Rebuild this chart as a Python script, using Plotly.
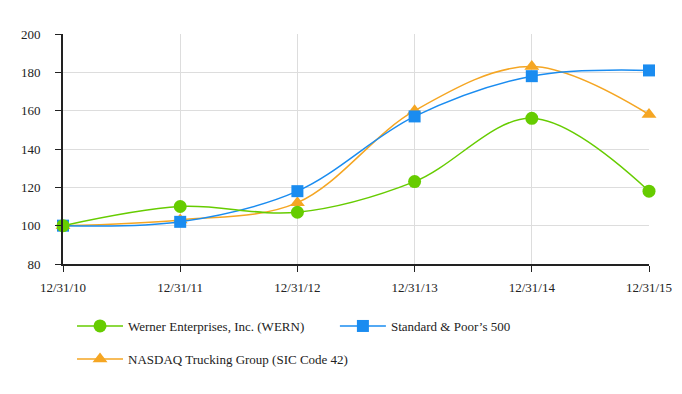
import plotly.graph_objects as go

dates = ["12/31/10", "12/31/11", "12/31/12", "12/31/13", "12/31/14", "12/31/15"]
wern = [100, 110, 107, 123, 156, 118]
sp500 = [100, 102, 118, 157, 178, 181]
nasdaq = [100, 103, 112, 160, 183, 158]

x = list(range(len(dates)))
FONT = "Liberation Serif"

fig = go.Figure()
fig.add_trace(go.Scatter(x=x, y=nasdaq, name="NASDAQ Trucking Group (SIC Code 42)",
                         mode="lines+markers", line=dict(color="#F5A623", width=1.5, shape="spline", smoothing=1),
                         marker=dict(symbol="triangle-up", size=13, color="#F5A623"),
                         cliponaxis=False, legend="legend3", showlegend=True))
fig.add_trace(go.Scatter(x=x, y=sp500, name="Standard & Poor\u2019s 500",
                         mode="lines+markers", line=dict(color="#1A8CF0", width=1.5, shape="spline", smoothing=1),
                         marker=dict(symbol="square", size=12, color="#1A8CF0"),
                         cliponaxis=False, legend="legend2", showlegend=True))
fig.add_trace(go.Scatter(x=x, y=wern, name="Werner Enterprises, Inc. (WERN)",
                         mode="lines+markers", line=dict(color="#66CC00", width=1.5, shape="spline", smoothing=1),
                         marker=dict(symbol="circle", size=13, color="#66CC00"),
                         cliponaxis=False, legend="legend", showlegend=True))

leg_common = dict(orientation="v", xanchor="left", yanchor="middle", itemwidth=46,
                  font=dict(family=FONT, size=13, color="#222"), bgcolor="rgba(0,0,0,0)")

fig.update_layout(
    width=682, height=394,
    showlegend=True,
    margin=dict(l=55, r=41, t=26, b=138),
    paper_bgcolor="white", plot_bgcolor="white",
    font=dict(family=FONT, size=13, color="#222"),
    xaxis=dict(range=[0, 5], tickvals=x, ticktext=dates, showgrid=True, gridcolor="#DDDDDD",
               showline=True, linecolor="#222", linewidth=2, ticks="outside", ticklen=6,
               tickcolor="#222", zeroline=False, ticklabelstandoff=4),
    yaxis=dict(range=[80, 200], dtick=20, showgrid=True, gridcolor="#DDDDDD",
               showline=True, linecolor="#222", linewidth=2, ticks="outside", ticklen=6,
               tickcolor="#222", zeroline=False, ticklabelstandoff=12),
    legend=dict(x=0.0154, y=-0.2696, **leg_common),
    legend2=dict(x=0.464, y=-0.2696, **leg_common),
    legend3=dict(x=0.0154, y=-0.413, **leg_common),
)

fig.write_html("out.html")
